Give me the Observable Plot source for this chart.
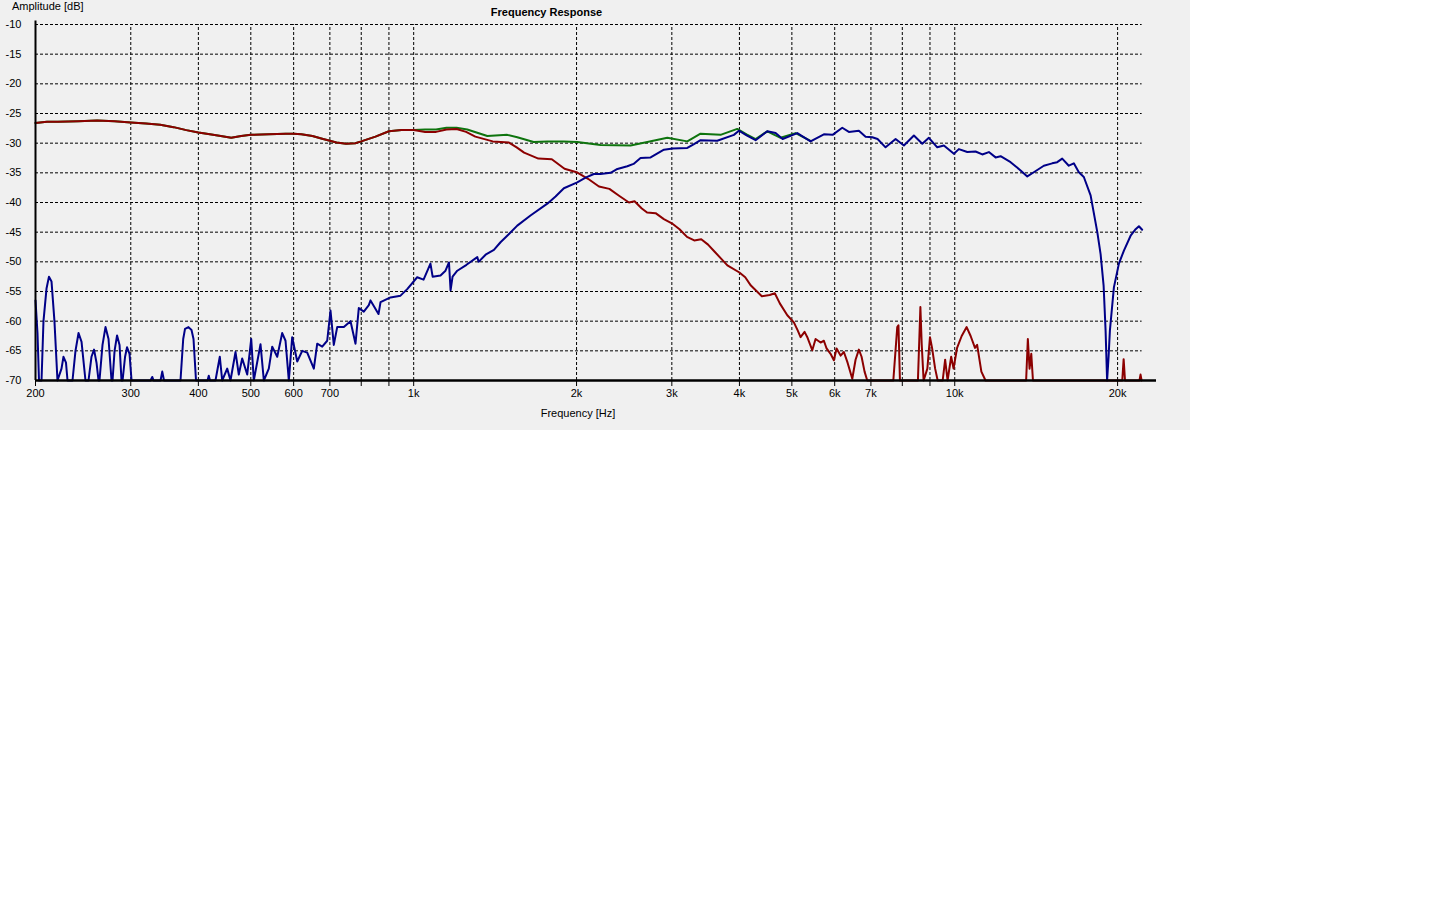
<!DOCTYPE html>
<html>
<head>
<meta charset="utf-8">
<script src="https://cdn.jsdelivr.net/npm/d3@7"></script>
<script src="https://cdn.jsdelivr.net/npm/@observablehq/plot@0.6"></script>
<style>
  html, body { margin: 0; padding: 0; background: #ffffff; }
  #wrap { position: relative; width: 1190px; height: 430px; background: #f0f0f0;
          font-family: "Liberation Sans", Arial, sans-serif; color: #000; }
  #wrap svg { position: absolute; left: 0; top: 0; }
  .lbl { position: absolute; font-size: 11px; line-height: 1; white-space: nowrap; }
  #title { font-weight: bold; left: 0; width: 1093px; text-align: center; top: 7px; }
  #ylab { left: 12px; top: 1px; }
  #xlab { left: 0; width: 1156px; text-align: center; top: 408px; }
</style>
</head>
<body>
<div id="wrap">
  <div id="chart"></div>
  <div class="lbl" id="title">Frequency Response</div>
  <div class="lbl" id="ylab">Amplitude [dB]</div>
  <div class="lbl" id="xlab">Frequency [Hz]</div>
</div>
<script>
// ---- axis ticks ----
const xTicks = [200,300,400,500,600,700,800,900,1000,2000,3000,4000,5000,6000,7000,8000,9000,10000,20000];
const xTickLabels = ["200","300","400","500","600","700","","","1k","2k","3k","4k","5k","6k","7k","","","10k","20k"];
const yTicks = [-10,-15,-20,-25,-30,-35,-40,-45,-50,-55,-60,-65,-70];

// ---- green: summed response ----
const sumFreq = [200,210,220,240,260,280,300,320,340,360,380,400,420,440,460,480,500,540,580,600,620,650,680,700,720,750,780,800,850,900,950,1000,1050,1100,1150,1200,1256,1368,1489,1554,1666,1766,1893,2006,2215,2517,2703,2943,3204,3390,3691,3963,4124,4285,4504,4766,5080,5414];
const sumDb   = [-26.6,-26.4,-26.4,-26.3,-26.2,-26.3,-26.5,-26.7,-26.9,-27.3,-27.8,-28.2,-28.5,-28.8,-29.1,-28.8,-28.6,-28.5,-28.4,-28.4,-28.5,-28.8,-29.3,-29.6,-29.9,-30.1,-30.0,-29.7,-28.9,-28.0,-27.8,-27.8,-27.7,-27.7,-27.4,-27.4,-27.7,-28.8,-28.6,-29.0,-29.8,-29.7,-29.7,-29.8,-30.3,-30.4,-29.8,-29.1,-29.7,-28.4,-28.6,-27.6,-28.5,-29.3,-28.0,-29.1,-28.3,-29.6];

// ---- red: woofer ----
const wooferFreq = [200,210,220,240,260,280,300,320,340,360,380,400,420,440,460,480,500,540,580,600,620,650,680,700,720,750,780,800,850,900,950,1000,1050,1100,1150,1200,1250,1300,1400,1500,1550,1600,1700,1800,1900,2000,2100,2200,2300,2400,2500,2560,2640,2700,2800,2900,3000,3100,3200,3300,3400,3500,3600,3800,4000,4100,4200,4400,4550,4650,4750,4904,5043,5123,5189,5278,5346,5454,5531,5650,5730,5796,5895,5979,6048,6152,6239,6338,6466,6557,6650,6727,6813,6892,7700,7830,7870,7920,8550,8640,8690,8760,8900,9000,9080,9200,9300,9500,9600,9700,9850,9950,10100,10300,10520,10700,10900,11000,11200,11400,13550,13650,13750,13850,13950,20400,20520,20640,21950,22050,22150];
const wooferDb   = [-26.6,-26.4,-26.4,-26.3,-26.2,-26.3,-26.5,-26.7,-26.9,-27.3,-27.8,-28.2,-28.5,-28.8,-29.1,-28.8,-28.6,-28.5,-28.4,-28.4,-28.5,-28.8,-29.3,-29.6,-29.9,-30.1,-30.0,-29.7,-28.9,-28.0,-27.8,-27.8,-28.1,-28.1,-27.7,-27.6,-28.1,-28.9,-29.7,-29.9,-30.7,-31.6,-32.6,-32.7,-34.3,-34.9,-36.0,-37.3,-37.7,-38.9,-40.0,-39.8,-41.0,-41.7,-41.8,-42.8,-43.5,-44.5,-45.8,-46.4,-46.2,-47.1,-48.3,-50.6,-51.8,-52.6,-54.0,-55.8,-55.6,-55.3,-57.0,-59.0,-60.2,-61.5,-62.7,-61.8,-62.8,-64.9,-63.0,-63.6,-63.3,-64.6,-65.5,-66.6,-64.6,-65.8,-65.2,-67.0,-69.7,-66.5,-64.8,-66.0,-68.5,-70,-70,-61,-60.7,-70,-70,-57.6,-64,-70,-68,-62.7,-64.5,-68,-70,-70,-66.5,-70,-66,-68,-64.5,-62.5,-61.0,-62.5,-64.5,-64,-68.5,-70,-70,-63.0,-68,-65.5,-70,-70,-66.4,-70,-70,-69.0,-70];

// ---- blue: tweeter ----
const tweeterFreq = [200,201.7,203,205.2,206.9,209.6,211.8,214.1,216.8,219.6,223.4,225.3,227.7,229.2,234.1,237.1,240.2,243.3,247.4,250.6,253.8,256.6,259.3,261.5,262.6,266,269.4,272.9,276.4,277.6,280,283,286,288.4,289.7,292.8,295.3,298.4,301,326.3,328.7,330.5,340.5,343,345.6,370.7,375,377.9,383.5,388.5,391.8,396,415.8,418.1,420.3,430.2,438.2,442.7,452.2,458.6,468.5,475.1,482,492.4,500.9,506.4,521.1,528.5,539.8,547.7,559.5,571.5,579.6,587.8,596.3,609.2,622.3,635.7,653.8,663.3,677.6,692.1,701.9,711.8,722.2,742.8,764.3,780.7,791.7,808.8,826.2,832.2,861,868.4,906.1,945.5,972.9,1015,1043,1074,1084,1121,1145,1162,1170,1180,1204,1252,1311,1318,1358,1407,1447,1497,1554,1644,1766,1829,1895,2006,2078,2153,2215,2312,2371,2482,2549,2626,2741,2812,2901,3010,3204,3291,3390,3640,3907,3991,4124,4285,4504,4666,4807,5117,5414,5730,5946,6196,6373,6650,6843,7041,7201,7450,7775,8054,8405,8710,8958,9284,9548,9964,10178,10548,10927,11244,11564,11899,12155,12684,13236,13617,14001,14610,15141,15467,15800,16250,16600,16957,17322,17829,18344,18604,18843,19003,19125,19247,19354,19687,20110,20544,21138,21594,21898,22200];
const tweeterDb   = [-56.5,-62,-70,-70,-60,-54.5,-52.5,-53.3,-60,-70,-68,-66.0,-67,-70,-70,-65,-62,-63.5,-70,-70,-66,-64.8,-67,-70,-70,-64,-61.0,-63,-70,-70,-65,-62.4,-64,-70,-70,-66,-64.4,-65.5,-70,-70,-69.4,-70,-70,-68.5,-70,-70,-63,-61.3,-61.0,-61.5,-63,-70,-70,-69.2,-70,-70,-66.0,-70,-68,-70,-65.2,-69,-66.3,-69,-63.0,-70,-63.9,-70,-68,-64.3,-66,-62,-63.3,-70,-62.7,-66.8,-65,-65.3,-68,-63.8,-64.3,-63.3,-58.2,-64,-61.0,-61.0,-60.0,-63.8,-57.8,-58.4,-57.3,-56.5,-58.8,-56.8,-56.0,-55.7,-54.6,-52.6,-53.0,-50.3,-52.5,-52.3,-51.5,-50.1,-54.8,-52.5,-51.5,-50.5,-49.2,-50.0,-48.8,-48.0,-46.7,-45.4,-43.9,-42.2,-40.2,-39.0,-37.6,-36.6,-35.8,-35.2,-35.2,-35.0,-34.4,-33.9,-33.5,-32.5,-32.4,-31.8,-31.1,-30.9,-30.8,-30.2,-29.5,-29.6,-28.6,-27.9,-28.7,-29.5,-28.0,-28.3,-29.3,-28.3,-29.7,-28.5,-28.6,-27.4,-28.1,-27.9,-28.9,-29.0,-29.3,-30.7,-29.3,-30.4,-28.7,-30.1,-29.1,-30.7,-30.4,-31.8,-31.0,-31.5,-31.4,-31.9,-31.5,-32.4,-32.2,-33.2,-34.6,-35.6,-34.9,-33.8,-33.4,-33.2,-32.6,-33.8,-33.4,-34.9,-35.7,-38.8,-45.0,-48.7,-54,-61.6,-70,-66,-61.6,-54.3,-50.3,-48.1,-45.6,-44.5,-44.0,-44.6];

const toRows = (fs, ds) => fs.map((f, i) => ({f, db: ds[i]}));
const sum = toRows(sumFreq, sumDb);
const woofer = toRows(wooferFreq, wooferDb);
const tweeter = toRows(tweeterFreq, tweeterDb);
const xLabelRows = xTicks.map((f, i) => ({f, label: xTickLabels[i]})).filter(d => d.label !== "");

const gridStyle = {stroke: "#000", strokeWidth: 1, strokeDasharray: "3,2"};

const chart = Plot.plot({
  width: 1190,
  height: 430,
  marginLeft: 35,
  marginRight: 34,
  marginTop: 24,
  marginBottom: 50,
  x: {type: "log", domain: [200, 23600]},
  y: {domain: [-70, -10]},
  style: {background: "#f0f0f0", fontFamily: "Liberation Sans, Arial, sans-serif", fontSize: "11px", color: "#000"},
  marks: [
    Plot.ruleX(xTicks.slice(1), {x: d => d, y1: -70, y2: -10, ...gridStyle}),
    Plot.ruleY(yTicks.slice(0, -1), {y: d => d, x1: 200, x2: 22200, ...gridStyle}),
    Plot.line(sum, {x: "f", y: "db", stroke: "#0e740e", strokeWidth: 2}),
    Plot.line(woofer, {x: "f", y: "db", stroke: "#8c0000", strokeWidth: 2}),
    Plot.line(tweeter, {x: "f", y: "db", stroke: "#000088", strokeWidth: 2}),
    Plot.ruleX([200], {y1: -70, y2: -9.4, stroke: "#000", strokeWidth: 2}),
    Plot.ruleY([-70], {x1: 200, x2: 23600, stroke: "#000", strokeWidth: 2.5}),
    Plot.axisY({ticks: yTicks, tickSize: 0, tickPadding: 14, label: null, tickFormat: d => String(d)}),
    Plot.axisX({ticks: xTicks, tickSize: 6, label: null, tickFormat: () => ""}),
    Plot.text(xLabelRows, {x: "f", y: () => -70, text: "label", dy: 13, fontSize: 11, fill: "#000"})
  ]
});
document.getElementById("chart").appendChild(chart);
</script>
</body>
</html>
